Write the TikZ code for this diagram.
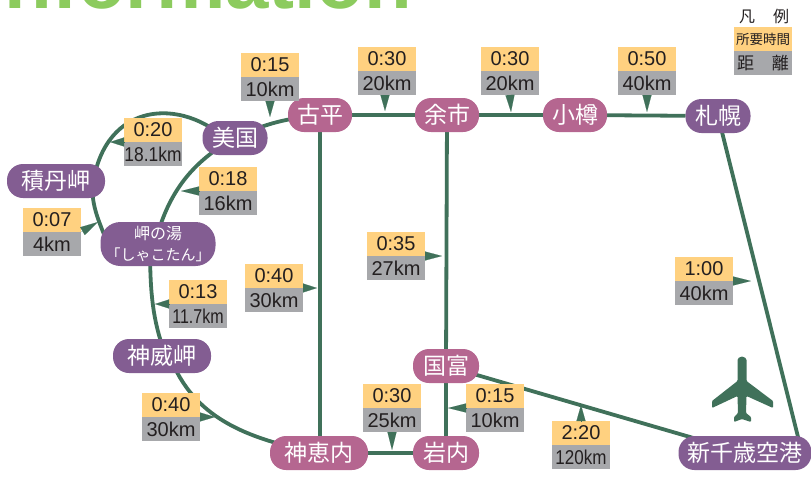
\documentclass[tikz,border=0pt]{standalone}
\usepackage{fontspec}
\setmainfont{Liberation Sans}
\newfontfamily\cjk{Noto Sans CJK JP}
\usepackage{xcolor}
\usetikzlibrary{positioning}
\usetikzlibrary{arrows.meta}
\usetikzlibrary{backgrounds}
\definecolor{roadgreen}{HTML}{40715A}
\definecolor{spotpurple}{HTML}{835D92}
\definecolor{townpink}{HTML}{B56690}
\definecolor{timeorange}{HTML}{FFD180}
\definecolor{distgray}{HTML}{A7A8AB}
\definecolor{inkdark}{HTML}{231F20}
\definecolor{titlegreen}{HTML}{8CCB5E}
\tikzset{
	place/.style={text=white, font=\cjk\fontsize{23}{25}\selectfont, minimum height=34pt, rounded corners=16pt, inner sep=0pt, outer sep=0pt},
	town/.style={place, fill=townpink},
	spot/.style={place, fill=spotpurple},
	timebox/.style={fill=timeorange, text=inkdark, font=\fontsize{20}{22}\selectfont, minimum width=58pt, minimum height=24pt, inner sep=0pt, outer sep=0pt},
	distbox/.style={timebox, fill=distgray},
	road/.style={draw=roadgreen, line width=3.8pt},
	pointer/.style={draw=roadgreen, line width=0.1pt, -{Triangle[length=#1, width=9pt, fill=roadgreen]}},
	pointer/.default=16pt
}
\newcommand{\narrow}[2]{\scalebox{#1}[1]{#2}}
\begin{document}
\begin{tikzpicture}[x=1pt, y=-1pt]
	\useasboundingbox (0,0) rectangle (811,477);
	\node[anchor=base east, text=titlegreen, font=\bfseries\fontsize{78}{80}\selectfont, inner sep=0pt] (title) at (412,8) {Information};

	\node[town, minimum width=64pt] (furubira) at (320,115) {古平};
	\node[town, minimum width=64pt] (yoichi) at (447,115) {余市};
	\node[town, minimum width=64pt] (otaru) at (575,115) {小樽};
	\node[spot, minimum width=65pt] (sapporo) at (718,116) {札幌};
	\node[spot, minimum width=65pt] (bikuni) at (235,138) {美国};
	\node[spot, minimum width=98pt] (shakotan) at (56,181) {積丹岬};
	\node[spot, minimum width=115pt, minimum height=44pt, rounded corners=20pt, align=center, font=\cjk\fontsize{15}{21}\selectfont] (yu) at (158,244) {{\fontsize{16}{21}\selectfont 岬の湯}\\「しゃこたん」};
	\node[spot, minimum width=98pt] (kamui) at (162,356) {神威岬};
	\node[town, minimum width=98pt] (kamoenai) at (319,453) {神恵内};
	\node[town, minimum width=66pt] (iwanai) at (446,453) {岩内};
	\node[town, minimum width=66pt] (kunitomi) at (446,366) {国富};
	\node[spot, minimum width=133pt] (chitose) at (745,453) {新千歳空港};

	\begin{scope}[on background layer]
		\draw[road] (furubira) -- (yoichi);
		\draw[road] (yoichi) -- (otaru);
		\draw[road] (otaru) -- (sapporo);
		\draw[road] (furubira) -- (furubira |- kamoenai);
		\draw[road] (yoichi.center) -- (kunitomi.center);
		\draw[road] (kunitomi.center) -- (iwanai.center);
		\draw[road] (kamoenai) -- (iwanai);
		\draw[road] (sapporo.center) -- ([xshift=57pt]chitose.center);
		\draw[road] (kunitomi.center) -- (chitose.center);
		\draw[road] (bikuni.center) .. controls (258,128) and (272,120) .. (furubira.center);
		\draw[road] ([xshift=-10pt]bikuni.center) .. controls (175,95) and (100,105) .. ([xshift=36pt,yshift=-11pt]shakotan.center);
		\draw[road] ([xshift=36pt]shakotan.center) .. controls (92,205) and (96,215) .. ([xshift=-50pt]yu.center);
		\draw[road] (bikuni.center) .. controls (195,160) and (168,190) .. ([xshift=-3pt]yu.center);
		\draw[road] ([xshift=-8pt]yu.center) .. controls (150,290) and (152,320) .. ([xshift=4pt]kamui.center);
		\draw[road] ([xshift=6pt,yshift=4pt]kamui.center) .. controls (190,412) and (235,437) .. (kamoenai.center);
	\end{scope}

	\node[timebox] (time015a) at (270,65) {0:15};
	\node[distbox, below=0mm of time015a] (dist015a) {10km};
	\node[timebox] (time020) at (153,130) {0:20};
	\node[distbox, below=0mm of time020] (dist020) {\narrow{.87}{18.1km}};
	\node[timebox] (time018) at (228,179) {0:18};
	\node[distbox, below=0mm of time018] (dist018) {16km};
	\node[timebox] (time007) at (52,220) {0:07};
	\node[distbox, below=0mm of time007] (dist007) {4km};
	\node[timebox] (time030a) at (387,59) {0:30};
	\node[distbox, below=0mm of time030a] (dist030a) {20km};
	\node[timebox] (time030b) at (510,59) {0:30};
	\node[distbox, below=0mm of time030b] (dist030b) {20km};
	\node[timebox] (time050) at (647,59) {0:50};
	\node[distbox, below=0mm of time050] (dist050) {40km};
	\node[timebox] (time035) at (396,244) {0:35};
	\node[distbox, below=0mm of time035] (dist035) {27km};
	\node[timebox] (time040a) at (274,276) {0:40};
	\node[distbox, below=0mm of time040a] (dist040a) {30km};
	\node[timebox] (time013) at (198,292) {0:13};
	\node[distbox, below=0mm of time013] (dist013) {\narrow{.8}{11.7km}};
	\node[timebox] (time100) at (704,269) {1:00};
	\node[distbox, below=0mm of time100] (dist100) {40km};
	\node[timebox] (time040b) at (171,405) {0:40};
	\node[distbox, below=0mm of time040b] (dist040b) {30km};
	\node[timebox] (time030c) at (392,396) {0:30};
	\node[distbox, below=0mm of time030c] (dist030c) {25km};
	\node[timebox] (time015b) at (495,396) {0:15};
	\node[distbox, below=0mm of time015b] (dist015b) {10km};
	\node[timebox] (time220) at (581,433) {2:20};
	\node[distbox, below=0mm of time220] (dist220) {\narrow{.85}{120km}};

	\coordinate (tip015a) at (270,117);
	\coordinate (tip020) at (110,142);
	\coordinate (tip018) at (181,191);
	\coordinate (tip007) at (98,222);
	\coordinate (tip030a) at (385,111);
	\coordinate (tip030b) at (511,112);
	\coordinate (tip050) at (647,112);
	\coordinate (tip035) at (442,256);
	\coordinate (tip040a) at (317,288);
	\coordinate (tip013) at (155,304);
	\coordinate (tip100) at (751,281);
	\coordinate (tip040b) at (215,417);
	\coordinate (tip030c) at (392,450);
	\coordinate (tip015b) at (448,408);
	\coordinate (tip220) at (581,405);
	\draw[pointer] (dist015a.south) -- (tip015a);
	\draw[pointer=14pt] (dist020.north west) -- (tip020);
	\draw[pointer=18pt] (dist018.north west) -- (tip018);
	\draw[pointer=18pt] (dist007.north east) -- (tip007);
	\draw[pointer] (dist030a.south -| tip030a) -- (tip030a);
	\draw[pointer=17pt] (dist030b.south) -- (tip030b);
	\draw[pointer=17pt] (dist050.south) -- (tip050);
	\draw[pointer=17pt] (dist035.north east) -- (tip035);
	\draw[pointer=14pt] (dist040a.north east) -- (tip040a);
	\draw[pointer=14pt] (dist013.north west) -- (tip013);
	\draw[pointer=18pt] (dist100.north east) -- (tip100);
	\draw[pointer=15pt] (dist040b.north east) -- (tip040b);
	\draw[pointer=18pt] (dist030c.south) -- (tip030c);
	\draw[pointer=18pt] (dist015b.north west) -- (tip015b);
	\draw[pointer] (time220.north) -- (tip220);

	\node[text=inkdark, font=\cjk\fontsize{16}{18}\selectfont, inner sep=0pt] (legendhead) at (764,16) {凡\hspace{18pt}例};
	\node[timebox, font=\cjk\fontsize{13.5}{15}\selectfont] (legendtime) at (763,39) {所要時間};
	\node[distbox, font=\cjk\fontsize{17}{19}\selectfont, below=0mm of legendtime] (legenddist) {距\hspace{18pt}離};

	\fill[roadgreen, rounded corners=1pt] (737.5,361) arc[start angle=180, end angle=360, radius=4.5] -- (746.5,381) -- (773,401) -- (773,408) -- (746.5,396) -- (746,413) -- (751,417) -- (751,422) -- (742,419) -- (734,422) -- (734,417) -- (738,413) -- (737.5,396) -- (712,408) -- (712,401) -- (737.5,381) -- cycle;
\end{tikzpicture}
\end{document}
